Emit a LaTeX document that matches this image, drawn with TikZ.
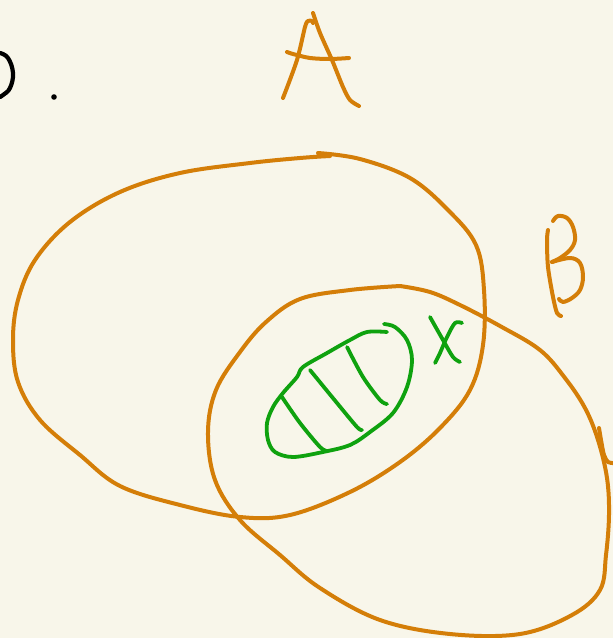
\documentclass[tikz,border=0pt]{standalone}
\definecolor{bg}{HTML}{F8F6EA}
\definecolor{ink}{HTML}{D47E08}
\definecolor{grn}{HTML}{0FA20F}
\tikzset{
  pen/.style={line width=4pt, line cap=round, line join=round, ink},
  gpen/.style={line width=3.8pt, line cap=round, line join=round, grn},
  kpen/.style={line width=4.2pt, line cap=round, black},
}
\begin{document}
\begin{tikzpicture}[x=1pt,y=-1pt]
\fill[bg] (0,0) rectangle (613,638);
\useasboundingbox (0,0) rectangle (613,638);
% black fragment and dot
\draw[kpen] plot[smooth,tension=0.7] coordinates {(0,53) (8,58) (13,73) (10,88) (3,95) (0,97)};
\fill[black] (54,97) circle (2.8);
% letter A
\draw[pen] plot[smooth,tension=0.5] coordinates {(283,98) (297,60) (305,27) (308,21) (312,21) (313,23)};
\draw[pen] plot[smooth,tension=0.5] coordinates {(313,13) (320,33) (332,60) (343,87) (350,100) (359,106)};
\draw[pen] plot[smooth,tension=0.5] coordinates {(287,52) (293,54) (310,58) (330,59) (349,58)};
% letter B
\draw[pen] plot[smooth,tension=0.5] coordinates {(548,230) (547,240) (548,267) (553,297) (557,313) (561,316)};
\draw[pen] plot[smooth,tension=0.6] coordinates {(553,221) (558,216) (567,218) (573,227) (575,240) (570,250) (560,258) (552,262)};
\draw[pen] plot[smooth,tension=0.6] coordinates {(552,262) (570,258) (580,263) (583,277) (580,290) (572,298) (563,302) (559,299)};
% set A
\draw[pen] plot[smooth,tension=0.6] coordinates {(318,153) (360,159) (410,178) (448,210) (476,245) (484,290) (483,345) (470,390) (440,428) (400,462) (350,492) (290,515) (240,517) (180,505) (120,486) (80,455) (40,420) (18,382) (13,340) (18,300) (35,260) (70,222) (120,192) (180,173) (250,163) (300,158) (330,156)};
% set B
\draw[pen] plot[smooth,tension=0.6] coordinates {(400,286) (350,290) (300,299) (266,322) (240,352) (216,390) (208,432) (215,480) (240,520) (280,555) (320,588) (380,620) (450,634) (520,634) (572,615) (600,590) (606,555) (609,515) (607,478) (598,440) (585,408) (565,378) (540,350) (500,326) (460,305) (430,292) (400,286)};
\draw[pen] plot[smooth,tension=0.5] coordinates {(599,428) (601,440) (604,455) (608,462) (613,463)};
% hatched region
\draw[gpen] plot[smooth,tension=0.55] coordinates {(387,332) (367,332) (350,340) (327,353) (303,367) (297,377) (283,393) (273,407) (267,423) (268,440) (275,452) (293,457) (323,452) (350,445) (370,432) (393,413) (407,387) (412,360) (407,340) (395,327) (384,324)};
\draw[gpen] plot[smooth,tension=0.5] coordinates {(282,397) (300,423) (320,447) (327,451)};
\draw[gpen] plot[smooth,tension=0.5] coordinates {(310,370) (337,403) (357,427) (362,430)};
\draw[gpen] plot[smooth,tension=0.5] coordinates {(347,347) (363,377) (380,400) (387,404)};
% X
\draw[gpen] plot[smooth,tension=0.5] coordinates {(430,317) (443,340) (453,357) (460,362)};
\draw[gpen] plot[smooth,tension=0.5] coordinates {(462,323) (455,323) (447,337) (440,353) (435,363)};
\end{tikzpicture}
\end{document}
